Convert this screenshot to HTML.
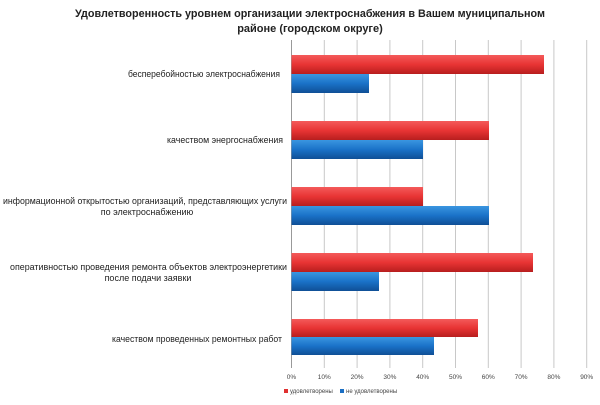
<!DOCTYPE html>
<html><head><meta charset="utf-8"><style>
body{margin:0;background:#fff;}
svg text{font-family:"Liberation Sans",sans-serif;}
</style></head><body>
<svg width="600" height="400" xmlns="http://www.w3.org/2000/svg">
<defs>
<linearGradient id="r" x1="0" y1="0" x2="0" y2="1"><stop offset="0" stop-color="#f45a5a"/><stop offset="0.5" stop-color="#e83434"/><stop offset="1" stop-color="#b81e1e"/></linearGradient>
<linearGradient id="b" x1="0" y1="0" x2="0" y2="1"><stop offset="0" stop-color="#3a96e0"/><stop offset="0.5" stop-color="#1a72c8"/><stop offset="1" stop-color="#0f4f96"/></linearGradient>
</defs>
<text x="310" y="17" font-size="11" font-weight="bold" text-anchor="middle" fill="#222" textLength="470" lengthAdjust="spacingAndGlyphs">Удовлетворенность уровнем организации электроснабжения в Вашем муниципальном</text>
<text x="310" y="32" font-size="11" font-weight="bold" text-anchor="middle" fill="#222">районе (городском округе)</text>
<g stroke="#c8c8c8" stroke-width="1">
<line x1="324.3" y1="40" x2="324.3" y2="368"/><line x1="357.1" y1="40" x2="357.1" y2="368"/><line x1="389.9" y1="40" x2="389.9" y2="368"/><line x1="422.7" y1="40" x2="422.7" y2="368"/><line x1="455.5" y1="40" x2="455.5" y2="368"/><line x1="488.3" y1="40" x2="488.3" y2="368"/><line x1="521.1" y1="40" x2="521.1" y2="368"/><line x1="553.9" y1="40" x2="553.9" y2="368"/><line x1="586.7" y1="40" x2="586.7" y2="368"/>
</g>
<line x1="291.5" y1="40" x2="291.5" y2="368" stroke="#999"/>
<g>
<rect x="291.5" y="55" width="252.5" height="19" fill="url(#r)"/><rect x="291.5" y="74" width="77.5" height="19" fill="url(#b)"/>
<rect x="291.5" y="121" width="197.5" height="19" fill="url(#r)"/><rect x="291.5" y="140" width="131.5" height="19" fill="url(#b)"/>
<rect x="291.5" y="187" width="131.5" height="19" fill="url(#r)"/><rect x="291.5" y="206" width="197.5" height="19" fill="url(#b)"/>
<rect x="291.5" y="253" width="241.5" height="19" fill="url(#r)"/><rect x="291.5" y="272" width="87.5" height="19" fill="url(#b)"/>
<rect x="291.5" y="319" width="186.5" height="18" fill="url(#r)"/><rect x="291.5" y="337" width="142.5" height="18" fill="url(#b)"/>
</g>
<g font-size="9" fill="#222">
<text x="128" y="77" textLength="152" lengthAdjust="spacingAndGlyphs">бесперебойностью электроснабжения</text>
<text x="167" y="143" textLength="116" lengthAdjust="spacingAndGlyphs">качеством энергоснабжения</text>
<text x="3" y="204" textLength="284" lengthAdjust="spacingAndGlyphs">информационной открытостью организаций, представляющих услуги</text>
<text x="147" y="215" text-anchor="middle">по электроснабжению</text>
<text x="10" y="270" textLength="277" lengthAdjust="spacingAndGlyphs">оперативностью проведения ремонта объектов электроэнергетики</text>
<text x="148" y="281" text-anchor="middle">после подачи заявки</text>
<text x="112" y="342" textLength="170" lengthAdjust="spacingAndGlyphs">качеством проведенных ремонтных работ</text>
</g>
<g font-size="6.5" fill="#444" text-anchor="middle">
<text x="291.5" y="379">0%</text><text x="324.3" y="379">10%</text><text x="357.1" y="379">20%</text><text x="389.9" y="379">30%</text><text x="422.7" y="379">40%</text><text x="455.5" y="379">50%</text><text x="488.3" y="379">60%</text><text x="521.1" y="379">70%</text><text x="553.9" y="379">80%</text><text x="586.7" y="379">90%</text>
</g>
<rect x="284" y="389" width="4" height="4" fill="#e03030"/>
<text x="290" y="393" font-size="6" fill="#444">удовлетворены</text>
<rect x="340" y="389" width="4" height="4" fill="#1a6fc4"/>
<text x="346" y="393" font-size="6" fill="#444">не удовлетворены</text>
</svg>
</body></html>
